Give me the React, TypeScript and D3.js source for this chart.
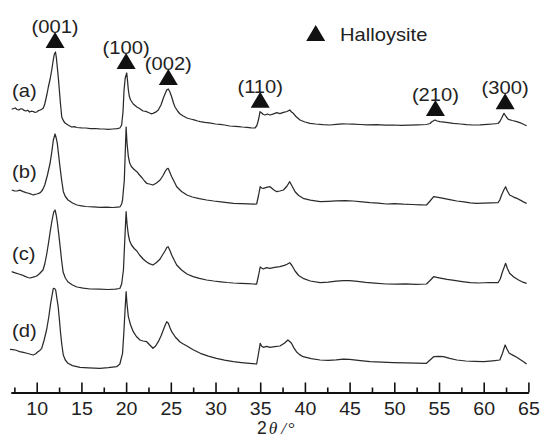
import React, { useRef, useEffect } from 'react';
import * as d3 from 'd3';

// 2theta (deg) vs intensity (a.u.)
const traceA: [number, number][] = [[7.2,20.7],[7.4,21.5],[7.6,22],[7.8,20.5],[8.0,20],[8.2,21.2],[8.4,21],[8.6,19.6],[8.8,19],[9.0,19.8],[9.2,18],[9.4,18.8],[9.6,18.5],[9.8,17.6],[10.0,18],[10.2,19.4],[10.4,20],[10.6,21],[10.74,22],[10.9,26],[11.0,30],[11.15,36],[11.3,43],[11.5,51],[11.68,60],[11.85,70],[11.97,76],[12.1,78],[12.2,72],[12.3,63],[12.42,52],[12.53,40],[12.65,27],[12.8,13],[13.0,9],[13.17,7],[13.5,5],[13.9,3],[14.2,3.4],[14.5,2.5],[15.0,2.2],[15.5,2],[16.0,1.4],[16.5,1.5],[17.0,1.1],[17.5,1],[18.0,0.6],[18.5,1],[19.0,1.3],[19.3,2],[19.5,5],[19.65,18],[19.77,40],[19.9,52],[20.07,57],[20.15,50],[20.25,40],[20.35,34],[20.5,30],[20.8,26],[21.2,23],[21.5,21.5],[21.9,19],[22.2,18.6],[22.5,17.5],[22.8,16.2],[23.0,16.7],[23.3,17.8],[23.6,20],[23.9,25],[24.16,31.7],[24.35,36],[24.54,40],[24.72,41],[24.9,38],[25.1,33],[25.3,27],[25.47,23],[25.75,19],[26.03,16],[26.4,14],[26.8,12],[27.2,11],[27.6,10.2],[28.0,9],[28.3,8.3],[28.8,7.6],[29.3,7.2],[30.0,6],[30.5,5.6],[31.0,5],[31.6,4],[32.2,3.6],[32.6,3.4],[33.0,3],[33.5,2.6],[34.0,2.2],[34.4,2],[34.6,4],[34.7,6.7],[34.85,12],[34.98,18.3],[35.17,17],[35.35,15.5],[35.54,15],[35.8,16],[36.1,15],[36.5,16.2],[36.85,17.3],[37.2,16.4],[37.6,17.7],[38.0,18.5],[38.3,20],[38.5,18],[38.7,16.7],[39.0,13.5],[39.45,10],[40.0,8],[40.57,6.7],[41.2,6],[42.0,5.4],[42.8,5],[43.5,5.6],[44.2,6.2],[44.7,6],[45.4,5.8],[46.2,5.5],[47.0,5.1],[48.0,5.4],[49.0,4.8],[49.9,5],[50.8,4.6],[51.7,4.9],[52.6,5.2],[53.6,5.5],[54.0,6.5],[54.2,8.3],[54.55,10],[54.8,9],[55.1,8.3],[55.8,7.6],[56.6,6.7],[57.4,6],[58.1,5.4],[58.8,5],[59.6,5.2],[60.4,5.6],[61.0,6],[61.6,6.5],[61.8,8.5],[62.0,11.7],[62.27,16.7],[62.5,13.5],[62.75,10.7],[63.2,9.5],[63.7,8.3],[64.2,6.8],[64.5,5.5],[64.8,4.3]];

const traceB: [number, number][] = [[7.2,18],[7.5,17.2],[7.8,17],[8.1,17.8],[8.5,16.3],[8.8,15.4],[9.0,15],[9.3,14.2],[9.6,13],[9.8,13.6],[10.0,14],[10.2,14.6],[10.4,15.3],[10.65,18],[10.9,23],[11.2,33],[11.5,45],[11.7,57],[11.86,68],[12.05,74],[12.18,70],[12.3,64.7],[12.45,53],[12.6,41.3],[12.8,27],[12.98,16.3],[13.2,11.5],[13.5,8],[14.0,5],[14.5,3],[15.0,2.2],[15.5,1.5],[16.3,1.1],[17.1,0.7],[17.8,0.9],[18.5,0.5],[19.0,0.8],[19.3,1],[19.5,4],[19.6,8],[19.8,28],[19.92,60],[20.0,81],[20.1,65],[20.25,51.3],[20.4,45],[20.6,41.3],[20.9,38.5],[21.2,36.3],[21.5,33],[21.8,30],[22.05,27],[22.3,24.7],[22.6,24],[23.0,23],[23.4,25],[23.8,28],[24.1,32],[24.35,36.3],[24.55,39],[24.7,39.7],[24.9,35.5],[25.1,31.3],[25.4,26],[25.66,21.3],[26.2,16.5],[26.8,13],[27.4,11],[28.2,9.4],[29.0,8],[29.8,7],[30.6,6.2],[31.3,5.4],[32.0,4.7],[32.8,4.4],[33.6,4.1],[34.3,3.8],[34.6,4],[34.8,12],[35.0,21.3],[35.15,20],[35.35,19.7],[35.7,20.6],[36.1,21.3],[36.5,18.2],[36.85,16.3],[37.2,17],[37.6,18],[38.0,22],[38.3,26.3],[38.5,23],[38.9,16.3],[39.3,12.5],[39.8,9.7],[40.6,7.8],[41.7,6.3],[42.6,6.7],[43.5,7.2],[44.5,7.3],[45.4,7],[46.4,6.2],[47.3,5.3],[48.2,4.8],[49.1,4],[50.0,4.3],[51.0,3.8],[52.0,3.5],[52.9,3.2],[53.6,3],[54.0,7],[54.4,11.3],[54.9,10.6],[55.5,9.7],[56.2,8.4],[57.0,7],[57.8,6.2],[58.5,5.2],[59.2,4.7],[60.0,4.9],[60.8,5.1],[61.6,5.3],[61.8,8],[62.0,13],[62.25,18],[62.45,21.3],[62.65,17],[62.9,13],[63.3,11.2],[63.7,9.7],[64.2,7.4],[64.5,5.8],[64.8,4.7]];

const traceC: [number, number][] = [[7.2,18.3],[7.5,17.4],[8.0,16],[8.3,15.2],[8.7,13.6],[9.0,12.5],[9.25,12],[9.6,12.8],[10.0,14],[10.3,16.2],[10.7,20],[10.9,26],[11.1,35],[11.3,46],[11.5,58],[11.7,69],[11.9,78],[12.05,80],[12.18,75],[12.3,68],[12.45,57],[12.6,45],[12.78,30],[12.95,18],[13.2,12],[13.5,8],[14.0,5],[14.5,3],[15.2,1.8],[16.0,1],[17.0,0.8],[18.0,0.5],[18.8,0.9],[19.3,1.5],[19.5,6],[19.7,20],[19.85,50],[20.0,78.3],[20.1,66],[20.25,55],[20.4,49],[20.6,45],[20.9,41.5],[21.2,39],[21.5,35],[21.9,31],[22.3,28],[22.6,26.4],[23.0,25],[23.4,27.5],[23.8,31],[24.1,35.5],[24.35,39],[24.55,42.5],[24.7,43.3],[24.9,39.5],[25.1,35],[25.4,29.5],[25.66,25],[26.2,20],[26.8,16],[27.5,13.4],[28.2,11.6],[29.0,10],[29.8,9],[30.6,8.2],[31.3,7.5],[32.0,7],[32.8,6.6],[33.6,6.3],[34.3,6],[34.6,6],[34.8,14],[35.0,23],[35.15,22],[35.35,21],[35.7,22.3],[36.1,21.7],[36.6,22.6],[37.2,23.3],[37.7,24.6],[38.0,25.8],[38.3,27.3],[38.55,24.5],[38.9,19],[39.3,14.5],[39.8,11.7],[40.6,9],[41.7,7.3],[42.6,7.9],[43.5,8.8],[44.3,9.4],[45.0,9.3],[45.9,8.6],[46.8,7.6],[47.8,6.8],[49.1,6],[50.2,5.8],[51.3,6.2],[52.4,5.7],[53.6,6],[54.0,9.5],[54.4,13.3],[55.0,12.2],[55.9,10.7],[56.7,9.6],[57.6,8.4],[58.5,7.3],[59.5,7],[60.6,7.5],[61.6,7.3],[61.85,11],[62.1,18.3],[62.3,23],[62.45,26.7],[62.65,21.5],[62.9,16.7],[63.4,12.8],[63.9,10],[64.3,8.2],[64.8,6.7]];

const traceD: [number, number][] = [[7.0,18.7],[7.3,18.4],[7.6,18],[7.9,17],[8.1,16.3],[8.5,15.6],[8.8,15],[9.2,14],[9.6,13],[9.9,14.2],[10.1,16],[10.35,17.6],[10.56,19.7],[10.8,27],[11.1,38],[11.35,51],[11.56,64.7],[11.72,73],[11.86,79.7],[12.0,79.5],[12.12,78],[12.25,70],[12.4,61.3],[12.55,47],[12.67,34.7],[12.8,24],[12.97,13],[13.2,8],[13.5,4.7],[14.0,2.4],[14.84,0.7],[15.8,0.2],[17.08,-0.3],[18.0,0.3],[18.94,1.3],[19.3,4],[19.6,14.7],[19.75,36],[19.88,58],[20.0,76.3],[20.1,64],[20.25,51.3],[20.5,43],[20.8,36.3],[21.15,31.5],[21.55,28],[21.9,27],[22.3,26.3],[22.7,22.5],[23.0,19.7],[23.3,22],[23.6,26.3],[23.9,32],[24.16,38],[24.35,42.5],[24.54,46.3],[24.72,44.7],[24.9,40.5],[25.1,36.3],[25.5,31],[26.03,26],[26.4,24],[26.8,22],[27.5,18.2],[28.3,14.7],[29.2,11.8],[30.1,9.6],[31.0,7.8],[32.0,6.3],[32.9,5.4],[33.8,4.6],[34.6,4],[34.8,14],[35.0,24.7],[35.15,22],[35.35,20.7],[35.7,21.6],[36.1,20.7],[36.6,21.4],[37.2,22],[37.7,24.8],[38.1,28],[38.3,26.5],[38.5,24.7],[38.75,20.4],[39.05,16.3],[39.4,13.4],[39.8,11.3],[40.7,9.4],[41.7,8],[42.6,7.6],[43.5,8.1],[44.3,8.8],[45.0,8.7],[46.2,7.4],[47.3,6.3],[48.6,5.8],[49.9,5.4],[51.2,5.1],[52.4,4.9],[53.6,4.7],[54.0,8],[54.4,11.3],[55.0,11.6],[55.5,11.3],[56.2,9.6],[57.0,8],[58.0,7],[59.0,6.6],[60.0,6.3],[61.0,7.2],[61.8,8],[62.1,14.7],[62.25,19],[62.4,23],[62.6,19],[62.86,14.7],[63.3,12.6],[63.7,10.7],[64.2,7.8],[64.5,6],[64.8,4]];

const traces = [traceA, traceB, traceC, traceD];
const traceNames = ['(a)', '(b)', '(c)', '(d)'];
const traceOffsets = [238, 160, 78, 0];

const peakLabels = ['(001)', '(100)', '(002)', '(110)', '(210)', '(300)'];
const peakAngles = [12.05, 20.0, 24.72, 35.0, 54.6, 62.4];

const majorTicks = [10, 15, 20, 25, 30, 35, 40, 45, 50, 55, 60, 65];
const minorTicks = [7.5, 12.5, 17.5, 22.5, 27.5, 32.5, 37.5, 42.5, 47.5, 52.5, 57.5, 62.5];

const W = 541, H = 443;
const SANS = '"Liberation Sans", Arial, sans-serif';
const SERIF = '"Liberation Serif", "Times New Roman", serif';
const SX = 1.12; // the figure's text is a bit wide

const App = () => {
  const ref = useRef<SVGSVGElement>(null);

  useEffect(() => {
    const svg = d3.select(ref.current);
    svg.selectAll('*').remove();

    const x = d3.scaleLinear().domain([7.1, 65]).range([10.8, 528.4]);
    const y = d3.scaleLinear().domain([0, 330]).range([368, 38]);
    const axisY = 392.5;

    const line = d3.line<[number, number]>()
      .x(d => x(d[0]))
      .y(d => y(d[1]));

    traces.forEach((tr, i) => {
      const off = traceOffsets[i];
      svg.append('path')
        .datum(tr.map(d => [d[0], d[1] + off] as [number, number]))
        .attr('fill', 'none')
        .attr('stroke', '#2a2a2a')
        .attr('stroke-width', 1.25)
        .attr('stroke-linejoin', 'round')
        .attr('d', line);

      svg.append('text')
        .attr('transform', `translate(12,${y(tr[0][1] + off) - 12}) scale(${SX},1)`)
        .attr('font-family', SANS)
        .attr('font-size', 18)
        .attr('fill', '#222')
        .text(traceNames[i]);
    });

    const tri = (cx: number, top: number) =>
      `M${cx},${top}L${cx + 9.5},${top + 16}L${cx - 9.5},${top + 16}Z`;

    // peak markers sit above the top trace
    peakAngles.forEach((a, i) => {
      const near = traceA.filter(d => Math.abs(d[0] - a) < 0.6);
      const peak = d3.max(near, d => d[1]) as number;
      const cx = x(a);
      const top = y(peak + traceOffsets[0]) - 20;
      svg.append('path').attr('d', tri(cx, top)).attr('fill', '#111');
      svg.append('text')
        .attr('transform', `translate(${cx},${top + 1}) scale(${SX},1)`)
        .attr('text-anchor', 'middle')
        .attr('font-family', SANS)
        .attr('font-size', 18)
        .attr('fill', '#222')
        .text(peakLabels[i]);
    });

    // legend
    svg.append('path').attr('d', tri(315.7, 25)).attr('fill', '#111');
    svg.append('text')
      .attr('transform', `translate(340,40.5) scale(${SX},1)`)
      .attr('font-family', SANS)
      .attr('font-size', 18)
      .attr('fill', '#222')
      .text('Halloysite');

    // x axis, ticks pointing up
    const gx = svg.append('g').attr('transform', `translate(0,${axisY})`);
    gx.call(
      d3.axisBottom(x).tickValues(majorTicks).tickSizeInner(-10).tickSizeOuter(0).tickPadding(10)
        .tickFormat(d3.format('d'))
    );
    gx.select('.domain').attr('stroke', '#111').attr('stroke-width', 2);
    gx.selectAll('.tick line').attr('stroke', '#111').attr('stroke-width', 1.6);
    gx.selectAll('.tick text')
      .attr('font-family', SANS)
      .attr('font-size', 17.5)
      .attr('fill', '#222')
      .attr('transform', `scale(${SX},1)`);

    const gm = svg.append('g').attr('transform', `translate(0,${axisY})`);
    gm.call(d3.axisBottom(x).tickValues(minorTicks).tickSizeInner(-5).tickSizeOuter(0).tickFormat(() => ''));
    gm.select('.domain').remove();
    gm.selectAll('.tick line').attr('stroke', '#111').attr('stroke-width', 1.6);

    const title = svg.append('text')
      .attr('x', 276)
      .attr('y', 434)
      .attr('text-anchor', 'middle')
      .attr('font-size', 17.5)
      .attr('fill', '#222');
    title.append('tspan').attr('font-family', SANS).text('2');
    title.append('tspan').attr('font-family', SERIF).attr('font-style', 'italic').attr('dx', 2).text('θ');
    title.append('tspan').attr('font-family', SERIF).attr('font-style', 'italic').attr('dx', 4).text('/');
    title.append('tspan').attr('font-family', SERIF).attr('dx', 2).text('°');
  }, []);

  return (
    <div style={{ position: 'absolute', left: 0, top: 0 }}>
      <svg ref={ref} width={W} height={H} style={{ display: 'block', background: '#fff' }}></svg>
    </div>
  );
};

export default App;
